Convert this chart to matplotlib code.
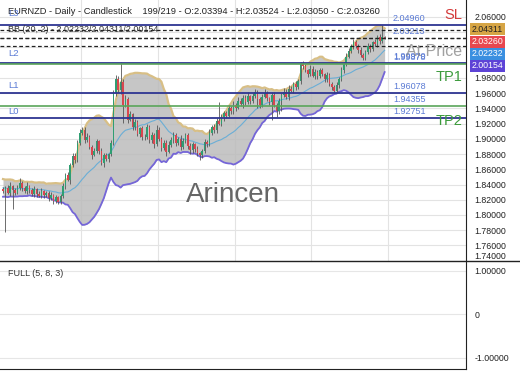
import matplotlib
matplotlib.use("Agg")
import matplotlib.pyplot as plt
from matplotlib.lines import Line2D
import numpy as np
import pandas as pd

plt.rcParams['font.family'] = ['Liberation Sans', 'DejaVu Sans']

# closes before the visible window (only used to warm up the bands)
warmup = [1.842, 1.835, 1.828, 1.840, 1.846, 1.834, 1.829, 1.838, 1.845, 1.836,
          1.827, 1.833, 1.841, 1.837, 1.830, 1.826, 1.835, 1.843, 1.834]

closes = [
    1.832, 1.836, 1.829, 1.838, 1.833, 1.829, 1.836, 1.842, 1.835, 1.831,
    1.838, 1.833, 1.827, 1.834, 1.828, 1.825, 1.831, 1.826, 1.829, 1.822,
    1.826, 1.819, 1.823, 1.817,
    1.825, 1.838, 1.852, 1.846, 1.866, 1.878, 1.872, 1.895, 1.908,
    1.912, 1.898, 1.903, 1.889, 1.879, 1.884, 1.897, 1.884, 1.868, 1.879, 1.874, 1.880,
    1.895, 1.960, 1.978, 1.964, 1.975, 1.945, 1.952, 1.925, 1.932, 1.915, 1.922, 1.906, 1.914, 1.902,
    1.902, 1.915, 1.898, 1.905, 1.893, 1.912, 1.900, 1.888, 1.895, 1.883, 1.892, 1.899,
    1.905, 1.894, 1.900, 1.889, 1.897, 1.905, 1.891, 1.885, 1.893, 1.887, 1.881, 1.879,
    1.884, 1.896, 1.893, 1.908, 1.915, 1.911, 1.924, 1.920,
    1.928, 1.934, 1.930, 1.940, 1.936, 1.945, 1.941, 1.950, 1.946, 1.954, 1.948, 1.956, 1.950,
    1.956, 1.962, 1.952, 1.945, 1.955, 1.960, 1.953, 1.948, 1.958, 1.945,
    1.936, 1.950, 1.957, 1.962, 1.955, 1.966, 1.963, 1.972, 1.968, 1.976,
    1.998, 1.995, 1.990, 1.985, 1.992, 1.983, 1.988, 1.982, 1.990, 1.985, 1.978, 1.984,
    1.972, 1.968, 1.963, 1.970,
    1.978, 1.990, 1.998, 2.008, 2.015, 2.022, 2.027,
    2.022, 2.016, 2.010, 2.006,
    2.014, 2.022, 2.018, 2.027, 2.024, 2.033, 2.029, 2.03394, 2.03260,
]
first_open = 1.834

# wick lengths in 1/1000
wick_hi = [
    3, 2, 4, 5, 2, 3, 4, 6, 2, 3, 5, 2, 3, 4, 2, 3, 5, 2, 3, 2, 4, 2, 3, 2,
    3, 4, 3, 5, 2, 4, 3, 4, 5,
    4, 3, 5, 2, 3, 4, 3, 2, 4, 3, 3, 2,
    3, 4, 6, 5, 26, 4, 6, 3, 5, 2, 4, 3, 2, 3,
    4, 5, 3, 4, 2, 6, 3, 2, 4, 3, 5, 3, 4, 2, 3, 5, 4, 3, 2, 4, 3, 2, 3, 2,
    3, 4, 2, 5, 3, 4, 3, 24,
    4, 3, 2, 5, 3, 4, 2, 5, 3, 4, 3, 5, 2,
    4, 3, 2, 3, 4, 5, 3, 2, 4, 3, 2, 4, 3, 5, 3, 4, 3, 2, 4, 3,
    3, 4, 3, 2, 5, 3, 4, 2, 3, 3, 2, 4,
    3, 2, 3, 4,
    3, 4, 3, 5, 4, 3, 4,
    3, 2, 4, 3,
    3, 4, 3, 2, 4, 3, 4, 15.7, 1.3,
]
wick_lo = [
    3, 54, 2, 4, 25, 3, 2, 3, 4, 2, 3, 4, 2, 3, 5, 2, 3, 4, 2, 3, 2, 4, 3, 3,
    2, 3, 4, 2, 5, 3, 4, 2, 3,
    3, 4, 2, 3, 5, 2, 3, 4, 3, 5, 3, 4,
    2, 3, 4, 3, 5, 24, 3, 4, 2, 3, 4, 2, 3, 4,
    3, 2, 4, 3, 5, 2, 3, 4, 3, 5, 2, 3, 4, 3, 2, 4, 3, 2, 4, 5, 3, 4, 3, 7,
    4, 3, 4, 2, 3, 4, 3, 2,
    3, 4, 3, 2, 4, 3, 4, 2, 3, 5, 3, 2, 4,
    3, 2, 12, 4, 3, 2, 4, 3, 23, 3, 8, 3, 14, 2, 3, 4, 2, 3, 4, 3,
    4, 3, 2, 4, 3, 2, 4, 3, 2, 3, 4, 3,
    3, 4, 3, 2,
    3, 2, 4, 3, 2, 3, 4,
    3, 4, 2, 3,
    2, 3, 4, 3, 2, 3, 4, 3, 2.1,
]

levels_blue = [2.04960, 1.99970, 1.96078, 1.92751]
levels_green = [1.99878, 1.94355]
levels_dashed = [2.04311, 2.03260, 2.03213, 2.02232]
level_labels = ['2.04960', '2.03213', '1.99970', '1.99878', '1.96078', '1.94355', '1.92751']
level_label_vals = [2.04960, 2.03213, 1.99970, 1.99878, 1.96078, 1.94355, 1.92751]
badge_texts = ['2.04311', '2.03260', '2.02232', '2.00154']
badge_colors = ['#d6a545', '#e8474f', '#3a8fe0', '#5d43d6']
yticks = [2.06, 2.04, 2.02, 2.00, 1.98, 1.96, 1.94, 1.92, 1.90, 1.88, 1.86, 1.84, 1.82, 1.80, 1.78, 1.76, 1.74]
covered_ticks = [2.04, 2.02, 2.00]   # hidden behind the price badges

# ---- data prep
closes = np.array(closes)
opens = np.concatenate([[first_open], closes[:-1]])
highs = np.maximum(opens, closes) + np.array(wick_hi) / 1000
lows = np.minimum(opens, closes) - np.array(wick_lo) / 1000
n = len(closes)
idx = np.arange(n)

allc = pd.Series(np.concatenate([warmup, closes]))
mid = allc.rolling(20).mean().values[len(warmup):]
sd = allc.rolling(20).std(ddof=0).values[len(warmup):]
upper = mid + 2 * sd
lower = mid - 2 * sd

W, H = 520, 390
fig = plt.figure(figsize=(5.2, 3.9), dpi=100)
ax = fig.add_axes([0, 1 - 261 / H, 466 / W, 261 / H])
ax2 = fig.add_axes([0, 1 - 369 / H, 466 / W, 108 / H], sharex=ax)

ax.set_xlim(-1.25, 192.9)
ax.set_ylim(1.7396, 2.0822)

vgrid = [32.5, 64.5, 96.5, 128.5, 160.5]
for v in vgrid:
    ax.axvline(v, color='#e3e3e3', lw=0.8, zorder=0)
for t in yticks:
    ax.axhline(t, color='#e3e3e3', lw=0.8, zorder=0)

# bollinger bands
ax.fill_between(idx, lower, upper, color='#bcbcbc', alpha=0.85, lw=0, zorder=1)
ax.plot(idx, upper, color='#d8bf86', lw=1.6, zorder=2)
ax.plot(idx, lower, color='#7566d8', lw=1.3, zorder=2)
ax.plot(idx, mid, color='#6aaed6', lw=0.8, zorder=2)

# candles
up = closes >= opens
ax.vlines(idx, lows, highs, color='#555555', lw=0.6, zorder=3)
ax.bar(idx[up], (closes - opens)[up], bottom=opens[up], width=0.65,
       color='#2f9e72', lw=0, zorder=4)
ax.bar(idx[~up], (opens - closes)[~up], bottom=closes[~up], width=0.65,
       color='#d9464f', lw=0, zorder=4)

# levels
for v in levels_blue:
    ax.axhline(v, color='#2e3592', lw=1.3, zorder=5)
for v in levels_green:
    ax.axhline(v, color='#5aa55a', lw=1.2, zorder=5)
for v in levels_dashed:
    ax.axhline(v, color='#222222', lw=0.9, ls=(0, (3, 2)), zorder=5)

for lab, v in zip(level_labels, level_label_vals):
    ax.text(162.5, v + 0.0022, lab, color='#5b7bd5', fontsize=6.5,
            ha='left', va='bottom', zorder=6)

ax.text(0.5 * (-1.25 + 192.9), 1.826, 'Arincen', color='#666666', fontsize=20,
        ha='center', va='center', zorder=6)

ax.yaxis.tick_right()
ax.set_yticks(yticks, labels=['' if t in covered_ticks else '%.5f' % t for t in yticks])
ax.tick_params(axis='y', length=0, pad=6, labelsize=6.3, colors='#222222')
ax.tick_params(axis='x', length=0, labelbottom=False)
for lbl in ax.get_yticklabels():
    if lbl.get_text() == '1.74000':
        lbl.set_va('bottom')
for s in ['left', 'top', 'bottom']:
    ax.spines[s].set_visible(False)
ax.spines['right'].set_color('#222222')

# lower panel
ax2.set_ylim(-1.26, 1.23)
for t in [1, 0, -1]:
    ax2.axhline(t, color='#e6e6e6', lw=0.8, zorder=0)
ax2.yaxis.tick_right()
ax2.set_yticks([1, 0, -1], labels=['1.00000', '0', '-1.00000'])
ax2.tick_params(axis='y', length=0, pad=6, labelsize=6.3, colors='#222222')
ax2.tick_params(axis='x', length=0, labelbottom=False)
ax2.spines['left'].set_visible(False)
ax2.spines['top'].set_visible(False)
for s in ['right', 'bottom']:
    ax2.spines[s].set_color('#222222')

fig.add_artist(Line2D([0, 1], [1 - 261 / H] * 2, color='#222222', lw=1.0))


def ft(x, y, s, **kw):
    fig.text(x / W, 1 - y / H, s, **kw)


ft(8, 12, 'EURNZD - Daily - Candlestick    199/219 - O:2.03394 - H:2.03524 - L:2.03050 - C:2.03260',
   fontsize=6.7, color='#222222', va='center')
ft(8, 29, 'BB (20, 2) - 2.02232/2.04311/2.00154', fontsize=6.5, color='#333333', va='center')
for s, y in [('L3', 14), ('L2', 53), ('L1', 85), ('L0', 112)]:
    ft(8, y, s, fontsize=6.8, color='#5b7bd5', va='center')
ft(8, 274, 'FULL (5, 8, 3)', fontsize=6.5, color='#333333', va='center')

ft(462, 15, 'SL', fontsize=10.5, color='#d43a3a', ha='right', va='center')
ft(462, 52, 'At Price', fontsize=11.5, color='#8a8a8a', alpha=0.8, ha='right', va='center')
ft(462, 77, 'TP1', fontsize=10.5, color='#3b9a3b', ha='right', va='center')
ft(462, 121, 'TP2', fontsize=10.5, color='#3b9a3b', ha='right', va='center')

for txt, col, y in zip(badge_texts, badge_colors, [29, 42, 54, 66]):
    tc = '#222222' if col == '#d6a545' else 'white'
    ft(472, y, txt, fontsize=6.3, color=tc, va='center',
       bbox=dict(boxstyle='square,pad=0.18', fc=col, ec='none'))

fig.savefig('out.png', dpi=100, facecolor='white')
